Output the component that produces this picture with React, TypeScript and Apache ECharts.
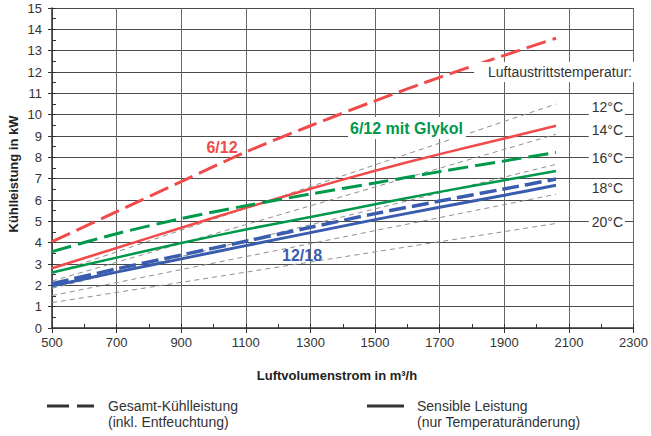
import { useEffect, useRef } from "react";
import * as echarts from "echarts";

// Luftvolumenstrom (m³/h) sample points
const airflow = [500, 700, 900, 1100, 1300, 1500, 1700, 1900, 2060];

// Kühlleistung in kW
const total612 = [4.05, 5.45, 6.86, 8.25, 9.48, 10.65, 11.75, 12.78, 13.58];
const sensible612 = [2.8, 3.75, 4.7, 5.63, 6.53, 7.37, 8.15, 8.88, 9.48];
const totalGlykol = [3.58, 4.42, 5.13, 5.73, 6.28, 6.8, 7.33, 7.83, 8.23];
const sensibleGlykol = [2.6, 3.3, 3.98, 4.62, 5.2, 5.8, 6.38, 6.93, 7.36];
const total1218 = [2.08, 2.77, 3.42, 4.07, 4.72, 5.36, 5.95, 6.52, 6.98];
const sensible1218 = [1.97, 2.62, 3.24, 3.86, 4.47, 5.08, 5.66, 6.22, 6.69];

// Lines of constant outlet air temperature
const tempLabels = ["12°C", "14°C", "16°C", "18°C", "20°C"];
const tempAirflow = [500, 2060];
const tempStart = [2.55, 2.2, 1.86, 1.52, 1.19];
const tempEnd = [10.5, 9.08, 7.67, 6.27, 4.9];

// Axis ticks
const xMin = 500;
const xMax = 2300;
const xStep = 200;
const yMin = 0;
const yMax = 15;
const yStep = 1;

const RED = "#f04a4b";
const GREEN = "#00984b";
const BLUE = "#3a5caf";
const FONT = "'Liberation Sans', Arial, Helvetica, sans-serif";

const pairs = (xs: number[], ys: number[]) => xs.map((x, i) => [x, ys[i]]);

export default function App() {
  const ref = useRef<HTMLDivElement>(null);

  useEffect(() => {
    document.body.style.margin = "0";
    const chart = echarts.init(ref.current!, null, { renderer: "svg" });

    const curve = (name: string, data: number[], color: string, width: number, dashed: number[] | null) => ({
      name,
      type: "line",
      data: pairs(airflow, data),
      showSymbol: false,
      smooth: 0.3,
      silent: true,
      z: 3,
      lineStyle: { color, width, type: dashed ?? "solid", cap: "butt" },
    });

    const tempSeries = tempLabels.map((label, i) => ({
      name: label,
      type: "line",
      data: [
        [tempAirflow[0], tempStart[i]],
        [tempAirflow[1], tempEnd[i]],
      ],
      showSymbol: false,
      silent: true,
      z: 2,
      lineStyle: { color: "#8f8f8f", width: 1, type: [5, 4] },
    }));

    const tempY = [107, 130, 158, 188, 222];

    const option: any = {
      animation: false,
      backgroundColor: "#ffffff",
      textStyle: { fontFamily: FONT },
      grid: { left: 52, right: 14, top: 8, bottom: 108, containLabel: false },
      xAxis: [
        {
          type: "value",
          min: xMin,
          max: xMax,
          interval: xStep,
          position: "bottom",
          axisLine: { show: true, onZero: false, lineStyle: { color: "#333", width: 1.5 } },
          axisTick: { show: true, length: 5, lineStyle: { color: "#333" } },
          axisLabel: {
            color: "#333",
            fontSize: 13,
            margin: 8,
            fontFamily: FONT,
            formatter: (v: number) => String(v),
          },
          splitLine: { show: true, lineStyle: { color: "#666", width: 1 } },
        },
        {
          type: "value",
          min: xMin,
          max: xMax,
          interval: xStep / 2,
          position: "bottom",
          axisLine: { show: false },
          axisTick: { show: true, inside: true, length: 4, lineStyle: { color: "#333" } },
          axisLabel: { show: false },
          splitLine: { show: false },
        },
      ],
      yAxis: [
        {
          type: "value",
          min: yMin,
          max: yMax,
          interval: yStep,
          position: "left",
          axisLine: { show: true, onZero: false, lineStyle: { color: "#333", width: 1.5 } },
          axisTick: { show: true, length: 4, lineStyle: { color: "#333" } },
          axisLabel: {
            color: "#333",
            fontSize: 13,
            margin: 10,
            fontFamily: FONT,
            formatter: (v: number) => String(v),
          },
          splitLine: { show: true, lineStyle: { color: "#4a4a4a", width: 1 } },
        },
        {
          type: "value",
          min: yMin,
          max: yMax,
          interval: yStep / 2,
          position: "left",
          axisLine: { show: false },
          axisTick: { show: true, inside: true, length: 4, lineStyle: { color: "#333" } },
          axisLabel: { show: false },
          splitLine: { show: false },
        },
      ],
      series: [
        ...tempSeries,
        curve("6/12 Gesamt", total612, RED, 3, [20, 7]),
        curve("6/12 Sensibel", sensible612, RED, 2.5, null),
        curve("6/12 mit Glykol Gesamt", totalGlykol, GREEN, 3, [20, 7]),
        curve("6/12 mit Glykol Sensibel", sensibleGlykol, GREEN, 2.5, null),
        curve("12/18 Gesamt", total1218, BLUE, 3.5, [17, 6]),
        curve("12/18 Sensibel", sensible1218, BLUE, 3, null),
      ],
      graphic: [
        {
          type: "text",
          x: 13,
          y: 174,
          rotation: Math.PI / 2,
          style: {
            text: "Kühlleistung in kW",
            font: `bold 13px ${FONT}`,
            fill: "#222",
            textAlign: "center",
            textVerticalAlign: "middle",
          },
        },
        {
          type: "text",
          x: 337,
          y: 375,
          style: {
            text: "Luftvolumenstrom in m³/h",
            font: `bold 13px ${FONT}`,
            fill: "#222",
            textAlign: "center",
            textVerticalAlign: "middle",
          },
        },
        {
          type: "text",
          x: 222,
          y: 147,
          z: 10,
          style: {
            text: "6/12",
            font: `bold 16px ${FONT}`,
            fill: RED,
            textAlign: "center",
            textVerticalAlign: "middle",
          },
        },
        {
          type: "text",
          x: 348,
          y: 128,
          z: 10,
          style: {
            text: "6/12 mit Glykol",
            font: `bold 16px ${FONT}`,
            fill: GREEN,
            textAlign: "left",
            textVerticalAlign: "middle",
            backgroundColor: "#fff",
            padding: [2, 3, 4, 2],
          },
        },
        {
          type: "text",
          x: 302,
          y: 255,
          z: 10,
          style: {
            text: "12/18",
            font: `bold 16px ${FONT}`,
            fill: BLUE,
            textAlign: "center",
            textVerticalAlign: "middle",
          },
        },
        {
          type: "text",
          x: 634,
          y: 72,
          z: 10,
          style: {
            text: "Luftaustrittstemperatur:",
            font: `14px ${FONT}`,
            fill: "#333",
            textAlign: "right",
            textVerticalAlign: "middle",
            backgroundColor: "#fff",
            padding: [3, 2, 3, 14],
          },
        },
        ...tempLabels.map((t, i) => ({
          type: "text",
          x: 625,
          y: tempY[i],
          z: 10,
          style: {
            text: t,
            font: `14px ${FONT}`,
            fill: "#333",
            textAlign: "right",
            textVerticalAlign: "middle",
            backgroundColor: "#fff",
            padding: [1, 2, 1, 3],
          },
        })),
        // Legend
        {
          type: "line",
          shape: { x1: 47, y1: 406, x2: 69, y2: 406 },
          style: { stroke: "#333", lineWidth: 3 },
        },
        {
          type: "line",
          shape: { x1: 77, y1: 406, x2: 94, y2: 406 },
          style: { stroke: "#333", lineWidth: 3 },
        },
        {
          type: "text",
          x: 108,
          y: 406,
          style: {
            text: "Gesamt-Kühlleistung",
            font: `14px ${FONT}`,
            fill: "#333",
            textVerticalAlign: "middle",
          },
        },
        {
          type: "text",
          x: 108,
          y: 422,
          style: {
            text: "(inkl. Entfeuchtung)",
            font: `14px ${FONT}`,
            fill: "#333",
            textVerticalAlign: "middle",
          },
        },
        {
          type: "line",
          shape: { x1: 367, y1: 406, x2: 404, y2: 406 },
          style: { stroke: "#333", lineWidth: 3 },
        },
        {
          type: "text",
          x: 417,
          y: 406,
          style: {
            text: "Sensible Leistung",
            font: `14px ${FONT}`,
            fill: "#333",
            textVerticalAlign: "middle",
          },
        },
        {
          type: "text",
          x: 417,
          y: 422,
          style: {
            text: "(nur Temperaturänderung)",
            font: `14px ${FONT}`,
            fill: "#333",
            textVerticalAlign: "middle",
          },
        },
      ],
    };

    chart.setOption(option);
    return () => chart.dispose();
  }, []);

  return <div ref={ref} style={{ width: 651, height: 436 }} />;
}
